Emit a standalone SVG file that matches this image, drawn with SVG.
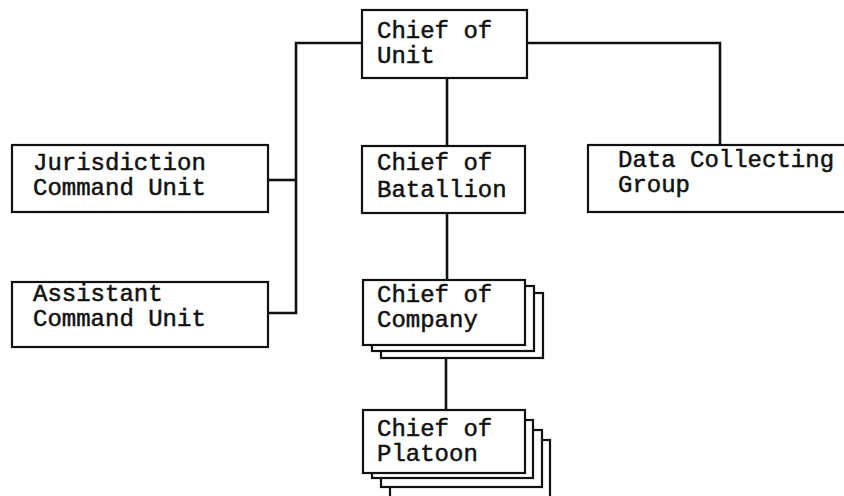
<svg xmlns="http://www.w3.org/2000/svg" width="844" height="496" viewBox="0 0 844 496">
<style>
.box{fill:#fff;stroke:#111;stroke-width:2.2}
.conn{fill:none;stroke:#111;stroke-width:2.6}
text{font-family:"Liberation Mono","Courier New",monospace;font-size:24px;fill:#111;stroke:#111;stroke-width:0.5}
</style>
<rect width="844" height="496" fill="#fff"/>
<g id="connectors">
<path class="conn" d="M361,43 H296 V313 H268"/>
<path class="conn" d="M296,180 H268"/>
<path class="conn" d="M527,43 H720 V145"/>
<path class="conn" d="M447,78 V146"/>
<path class="conn" d="M447,213 V280"/>
<path class="conn" d="M446,358 V410"/>
</g>
<g id="chief-of-unit">
<rect class="box" x="362" y="10" width="165" height="68"/>
<text x="377" y="38">Chief of</text>
<text x="377" y="63">Unit</text>
</g>
<g id="jurisdiction-command-unit">
<rect class="box" x="12" y="145" width="256" height="67"/>
<text x="33" y="170">Jurisdiction</text>
<text x="33" y="195">Command Unit</text>
</g>
<g id="assistant-command-unit">
<rect class="box" x="12" y="282" width="256" height="65"/>
<text x="33" y="301">Assistant</text>
<text x="33" y="326">Command Unit</text>
</g>
<g id="chief-of-batallion">
<rect class="box" x="362" y="146" width="163" height="67"/>
<text x="377" y="170">Chief of</text>
<text x="377" y="197">Batallion</text>
</g>
<g id="data-collecting-group">
<rect class="box" x="588" y="145" width="270" height="67"/>
<text x="618" y="167">Data Collecting</text>
<text x="618" y="192">Group</text>
</g>
<g id="chief-of-company">
<rect class="box" x="381" y="293" width="162" height="65"/>
<rect class="box" x="372" y="286" width="162" height="65"/>
<rect class="box" x="363" y="280" width="162" height="65"/>
<text x="377" y="302">Chief of</text>
<text x="377" y="327">Company</text>
</g>
<g id="chief-of-platoon">
<rect class="box" x="390" y="440" width="160" height="66"/>
<rect class="box" x="381" y="430" width="161" height="57"/>
<rect class="box" x="372" y="420" width="161" height="58"/>
<rect class="box" x="363" y="410" width="162" height="63"/>
<text x="377" y="436">Chief of</text>
<text x="377" y="461">Platoon</text>
</g>
</svg>
